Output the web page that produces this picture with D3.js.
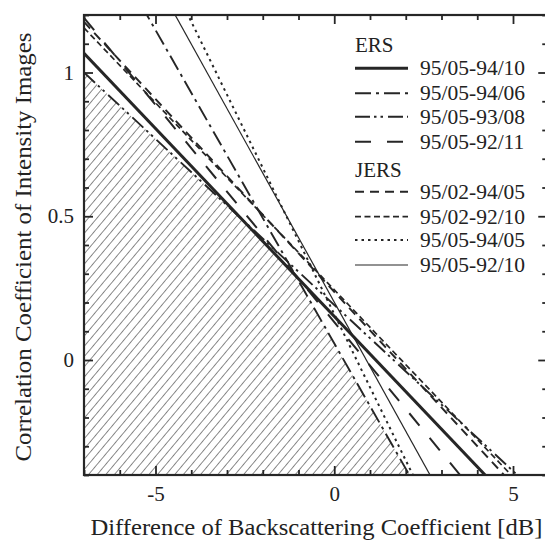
<!DOCTYPE html>
<html>
<head>
<meta charset="utf-8">
<script src="https://cdn.jsdelivr.net/npm/d3@7"></script>
<style>
  body { margin: 0; background: #fff; }
  svg { display: block; }
  text { font-family: "Liberation Serif", "Times New Roman", serif; fill: #222; }
</style>
</head>
<body>
<svg id="chart" width="545" height="542"></svg>
<script>
// Regression lines: correlation of intensity images vs. backscatter difference.
// Each line is given by two points read along it: (x0, y0) -> (x1, y1).
const seriesLabels = ["95/05-94/10", "95/05-94/06", "95/05-93/08", "95/05-92/11",
                      "95/02-94/05", "95/02-92/10", "95/05-94/05", "95/05-92/10"];
const seriesGroup  = ["ERS", "ERS", "ERS", "ERS", "JERS", "JERS", "JERS", "JERS"];
const lineX0 = [-7,    -5.24, -7,   -7,    -7,    -7,    -4.09, -4.45];
const lineY0 = [1.067,  1.2,   1.0,  1.19,  1.176, 1.155, 1.2,   1.2];
const lineX1 = [4.22,   2.1,   5.12, 3.52,  4.75,  4.95,  2.2,   2.68];
const lineY1 = [-0.4,  -0.4,  -0.4, -0.4,  -0.4,  -0.4,  -0.4,  -0.4];

const groupTitles = ["ERS", "JERS"];
const xMajorTicks = [-5, 0, 5];
const yMajorTicks = [0, 0.5, 1];
const xTitle = "Difference of Backscattering Coefficient [dB]";
const yTitle = "Correlation Coefficient of Intensity Images";

// line styles per series
const styleWidth = [3.0, 1.9, 1.9, 2.0, 1.9, 1.7, 2.0, 1.2];
const styleDash  = [null, "16,5,3,5", "15,4,2.5,4,2.5,5", "16,16", "9,6", "6,3.5", "2.5,4", null];

const svg = d3.select("#chart");
const ink = "#262626";

const x = d3.scaleLinear().domain([-7, 6]).range([84, 548.75]);
const y = d3.scaleLinear().domain([-0.4, 1.2]).range([475, 15]);
const [X0, X1] = x.range();
const [Y0, Y1] = [y.range()[1], y.range()[0]];

const defs = svg.append("defs");
defs.append("clipPath").attr("id", "plot-clip")
  .append("rect").attr("x", X0).attr("y", Y0).attr("width", X1 - X0).attr("height", Y1 - Y0);

const hatch = defs.append("pattern")
  .attr("id", "hatch").attr("patternUnits", "userSpaceOnUse")
  .attr("width", 6.6).attr("height", 10)
  .attr("patternTransform", "rotate(40)");
hatch.append("line").attr("x1", 3.3).attr("y1", -1).attr("x2", 3.3).attr("y2", 11)
  .attr("stroke", "#6a6a6a").attr("stroke-width", 0.8);

// line equations
const lines = seriesLabels.map((label, i) => {
  const slope = (lineY1[i] - lineY0[i]) / (lineX1[i] - lineX0[i]);
  return { label, group: seriesGroup[i], i,
           f: v => lineY0[i] + slope * (v - lineX0[i]) };
});

// hatched region: everything below the lowest of all lines
const [dx0, dx1] = x.domain();
const yMin = y.domain()[0];
const env = [];
for (let k = 0; k <= 1300; k++) {
  const v = dx0 + (dx1 - dx0) * k / 1300;
  const m = d3.min(lines, l => l.f(v));
  env.push([v, Math.max(m, yMin)]);
}
env.push([dx1, yMin], [dx0, yMin]);

const plot = svg.append("g").attr("clip-path", "url(#plot-clip)");
plot.append("path")
  .attr("d", d3.line().x(d => x(d[0])).y(d => y(d[1]))(env) + "Z")
  .attr("fill", "url(#hatch)").attr("stroke", "none");

// regression lines, extended across the frame and clipped
plot.selectAll("path.series").data(lines).join("path")
  .attr("class", "series")
  .attr("d", l => d3.line().x(d => x(d)).y(d => y(l.f(d)))([dx0, dx1]))
  .attr("fill", "none").attr("stroke", ink)
  .attr("stroke-width", l => styleWidth[l.i])
  .attr("stroke-dasharray", l => styleDash[l.i]);

// axes with inward ticks on all four sides
const xMinor = d3.range(-7, 7, 1).filter(v => !xMajorTicks.includes(v));
const yMinor = d3.range(-4, 13, 1).map(v => v / 10).filter(v => !yMajorTicks.includes(v));

function tickAxes(axisFn, scale, major, minor, pos, withLabels) {
  const gMinor = svg.append("g").attr("transform", pos)
    .call(axisFn(scale).tickValues(minor).tickSize(-5).tickFormat(""));
  const gMajor = svg.append("g").attr("transform", pos)
    .call(axisFn(scale).tickValues(major).tickSize(-9).tickPadding(11)
      .tickFormat(withLabels ? (d => String(d)) : ""));
  [gMinor, gMajor].forEach(g => {
    g.select(".domain").remove();
    g.selectAll(".tick line").attr("stroke", ink).attr("stroke-width", 1.8);
  });
  return gMajor;
}

const gx = tickAxes(d3.axisBottom, x, xMajorTicks, xMinor, `translate(0,${Y1})`, true);
gx.selectAll(".tick text").attr("font-size", 21).attr("fill", "#222")
  .attr("font-family", "Liberation Serif").attr("dy", "0.9em").attr("y", 7);
tickAxes(d3.axisTop, x, xMajorTicks, xMinor, `translate(0,${Y0})`, false);
const gy = tickAxes(d3.axisLeft, y, yMajorTicks, yMinor, `translate(${X0},0)`, true);
gy.selectAll(".tick text").attr("font-size", 21).attr("fill", "#222")
  .attr("font-family", "Liberation Serif").attr("x", -10);
tickAxes(d3.axisRight, y, yMajorTicks, yMinor, `translate(${X1 - 1.5},0)`, false);

// frame
svg.append("rect").attr("x", X0).attr("y", Y0).attr("width", X1 - X0).attr("height", Y1 - Y0)
  .attr("fill", "none").attr("stroke", ink).attr("stroke-width", 2.2);

// axis titles
svg.append("text").attr("x", (X0 + X1) / 2).attr("y", 535)
  .attr("text-anchor", "middle").attr("font-size", 23)
  .attr("textLength", 452).attr("lengthAdjust", "spacingAndGlyphs")
  .text(xTitle);
svg.append("text").attr("transform", `translate(31,${(Y0 + Y1) / 2 + 2}) rotate(-90)`)
  .attr("text-anchor", "middle").attr("font-size", 23)
  .attr("textLength", 429).attr("lengthAdjust", "spacingAndGlyphs")
  .text(yTitle);

// legend
const legendRows = [68.3, 93.3, 116.7, 141.7, 191.7, 216.7, 240, 265];
const titleBaselines = [52, 177];
const legend = svg.append("g");
groupTitles.forEach((t, k) => {
  legend.append("text").attr("x", 355).attr("y", titleBaselines[k])
    .attr("font-size", 21).text(t);
});
lines.forEach((l, k) => {
  const cy = legendRows[k];
  legend.append("line").attr("x1", 355).attr("x2", 408).attr("y1", cy).attr("y2", cy)
    .attr("stroke", ink).attr("stroke-width", styleWidth[l.i])
    .attr("stroke-dasharray", styleDash[l.i]);
  legend.append("text").attr("x", 420).attr("y", cy + 7)
    .attr("font-size", 21.5).text(l.label);
});
</script>
</body>
</html>
